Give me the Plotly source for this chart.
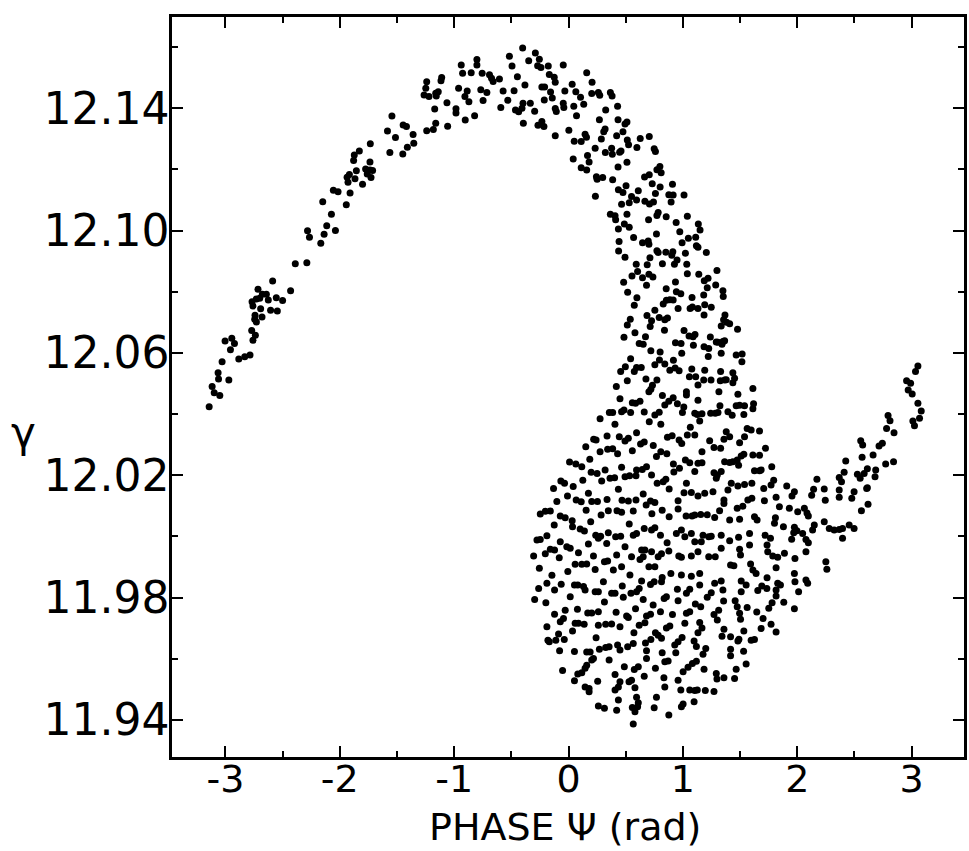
import plotly.graph_objects as go

# (phase psi [rad], gamma) pairs, grouped by region
arm_low = [(-3.142,12.0424),(-3.098,12.0470),(-3.049,12.0461),(-3.116,12.0490),(-3.060,12.0515),(-3.064,12.0535),(-2.970,12.0511),(-3.029,12.0571),(-2.956,12.0610),(-3.003,12.0639),(-2.944,12.0648),(-2.921,12.0631),(-2.883,12.0580),(-2.831,12.0587),(-2.785,12.0593),(-2.759,12.0641),(-2.738,12.0658),(-2.770,12.0673),(-2.744,12.0710),(-2.729,12.0701),(-2.741,12.0723),(-2.680,12.0717),(-2.692,12.0744),(-2.605,12.0739),(-2.546,12.0737),(-2.759,12.0753),(-2.767,12.0767),(-2.729,12.0776),(-2.700,12.0779),(-2.677,12.0792),(-2.642,12.0792),(-2.625,12.0773),(-2.715,12.0808),(-2.555,12.0780),(-2.500,12.0771),(-2.587,12.0835),(-2.430,12.0803),(-2.389,12.0891),(-2.288,12.0895)]

arm_high = [(-2.166,12.0958),(-2.137,12.0988),(-2.265,12.0978),(-2.282,12.0999),(-2.114,12.1016),(-2.038,12.1000),(-2.073,12.1053),(-2.149,12.1094),(-1.943,12.1084),(-1.910,12.1123),(-2.056,12.1132),(-2.015,12.1127),(-1.928,12.1158),(-1.936,12.1174),(-1.916,12.1183),(-1.867,12.1169),(-1.801,12.1151),(-1.855,12.1195),(-1.774,12.1201),(-1.736,12.1198),(-1.713,12.1196),(-1.727,12.1173),(-1.760,12.1185),(-1.736,12.1224),(-1.879,12.1229),(-1.873,12.1247),(-1.829,12.1260),(-1.733,12.1284),(-1.562,12.1255),(-1.449,12.1250),(-1.409,12.1272),(-1.353,12.1285),(-1.513,12.1304),(-1.583,12.1325),(-1.359,12.1314),(-1.417,12.1340),(-1.446,12.1345),(-1.544,12.1374)]

crest_left = [(-1.240,12.1486),(-1.248,12.1465),(-1.263,12.1443),(-1.220,12.1438),(-1.161,12.1449),(-1.139,12.1454),(-1.156,12.1440),(-1.109,12.1500),(-1.115,12.1490),(-1.170,12.1397),(-1.063,12.1418),(-1.161,12.1351),(-1.240,12.1326),(-1.182,12.1330),(-1.057,12.1341),(-0.984,12.1398),(-0.984,12.1384),(-0.961,12.1465),(-0.938,12.1541),(-0.926,12.1514),(-0.906,12.1438),(-0.886,12.1456),(-0.871,12.1421),(-0.903,12.1361),(-0.821,12.1375),(-0.801,12.1559),(-0.801,12.1541),(-0.851,12.1516),(-0.767,12.1460),(-0.714,12.1451),(-0.747,12.1425),(-0.755,12.1514),(-0.691,12.1509),(-0.673,12.1498),(-0.659,12.1487),(-0.604,12.1495),(-0.572,12.1456),(-0.531,12.1426),(-0.592,12.1402),(-0.517,12.1570),(-0.494,12.1538),(-0.447,12.1503),(-0.476,12.1457),(-0.464,12.1394),(-0.436,12.1388),(-0.407,12.1400),(-0.398,12.1416),(-0.381,12.1476),(-0.401,12.1597),(-0.348,12.1555),(-0.290,12.1580),(-0.255,12.1560),(-0.270,12.1539),(-0.241,12.1533),(-0.177,12.1538),(-0.168,12.1510),(-0.125,12.1501),(-0.116,12.1485),(-0.233,12.1469),(-0.209,12.1469),(-0.157,12.1453),(-0.142,12.1433),(-0.212,12.1427),(-0.334,12.1416),(-0.296,12.1390),(-0.395,12.1351),(-0.267,12.1344),(-0.233,12.1356),(-0.215,12.1340),(-0.116,12.1399),(-0.107,12.1389),(-0.116,12.1310),(-0.046,12.1541),(-0.032,12.1456),(-0.046,12.1416),(-0.041,12.1402),(0.046,12.1406),(0.032,12.1478),(0.064,12.1454),(0.070,12.1375),(0.003,12.1328),(0.050,12.1292),(0.041,12.1234)]

crest_right = [(0.159,12.1516),(0.206,12.1485),(0.203,12.1448),(0.261,12.1451),(0.273,12.1442),(0.366,12.1451),(0.381,12.1440),(0.105,12.1436),(0.133,12.1413),(0.325,12.1394),(0.429,12.1406),(0.270,12.1362),(0.433,12.1362),(0.511,12.1355),(0.494,12.1348),(0.476,12.1323),(0.320,12.1332),(0.308,12.1323),(0.421,12.1310),(0.627,12.1301),(0.706,12.1307),(0.514,12.1296),(0.525,12.1280),(0.287,12.1299),(0.145,12.1315),(0.157,12.1305),(0.111,12.1291),(0.233,12.1269),(0.377,12.1269),(0.383,12.1249),(0.322,12.1255),(0.459,12.1260),(0.447,12.1256),(0.598,12.1271),(0.749,12.1267),(0.760,12.1258),(0.166,12.1245),(0.180,12.1224),(0.111,12.1205),(0.159,12.1198),(0.433,12.1208),(0.511,12.1223),(0.244,12.1176),(0.250,12.1168),(0.299,12.1173),(0.386,12.1166),(0.665,12.1175),(0.706,12.1182),(0.773,12.1199),(0.799,12.1209),(0.810,12.1189),(0.732,12.1153),(0.801,12.1142),(0.909,12.1151),(0.503,12.1146),(0.436,12.1133),(0.476,12.1124),(0.610,12.1130),(0.760,12.1121),(0.877,12.1117),(0.915,12.1116),(1.010,12.1116),(0.235,12.1112),(0.551,12.1111),(0.595,12.1100),(0.531,12.1091),(0.464,12.1086),(0.668,12.1096),(0.708,12.1087),(0.743,12.1093),(0.897,12.1093),(0.366,12.1053),(0.407,12.1048),(0.412,12.1035),(0.511,12.1053),(0.784,12.1059),(0.773,12.1049),(0.854,12.1045),(1.039,12.1047),(0.700,12.1035),(0.488,12.1021),(0.531,12.1011),(0.436,12.1005),(0.941,12.1026),(1.135,12.1021),(1.150,12.1002)]

band = [(0.569,12.0977),(0.647,12.0960),(0.697,12.0966),(0.703,12.0955),(0.769,12.0989),(0.973,12.0996),(1.048,12.0975),(1.112,12.0978),(0.993,12.0960),(1.118,12.0950),(1.132,12.0945),(0.442,12.0964),(0.438,12.0933),(0.494,12.0913),(0.773,12.0934),(0.784,12.0928),(0.851,12.0929),(0.912,12.0931),(0.903,12.0919),(1.022,12.0926),(1.205,12.0928),(0.592,12.0890),(0.688,12.0888),(0.712,12.0911),(0.821,12.0891),(0.926,12.0890),(0.949,12.0904),(1.034,12.0890),(0.555,12.0851),(0.604,12.0866),(0.647,12.0846),(0.703,12.0857),(0.738,12.0848),(0.935,12.0832),(1.039,12.0859),(1.139,12.0857),(1.298,12.0869),(0.482,12.0831),(0.682,12.0821),(0.854,12.0810),(0.943,12.0800),(0.982,12.0793),(1.187,12.0836),(1.220,12.0844),(1.287,12.0822),(1.213,12.0813),(1.350,12.0803),(1.353,12.0784),(0.517,12.0798),(0.598,12.0780),(0.575,12.0756),(1.080,12.0781),(1.182,12.0789),(0.856,12.0772),(0.886,12.0774),(0.915,12.0773),(0.828,12.0760),(0.958,12.0745),(1.063,12.0745),(1.083,12.0750),(1.132,12.0745),(1.191,12.0757),(1.248,12.0749),(1.185,12.0724),(0.755,12.0739),(0.540,12.0710),(0.514,12.0691),(0.686,12.0722),(0.726,12.0705),(0.714,12.0686),(0.793,12.0716),(0.842,12.0708),(0.865,12.0714),(0.839,12.0674),(1.368,12.0724),(1.356,12.0708),(1.382,12.0700),(1.409,12.0695),(1.335,12.0688),(1.478,12.0677),(0.485,12.0651),(0.581,12.0666),(0.673,12.0653),(0.618,12.0631),(0.653,12.0628),(0.935,12.0633),(0.984,12.0631),(1.010,12.0673),(1.054,12.0655),(1.089,12.0653),(1.106,12.0660),(1.092,12.0625),(1.240,12.0652),(1.185,12.0620),(1.226,12.0614),(1.292,12.0636),(1.307,12.0635),(1.350,12.0637),(1.365,12.0640),(1.342,12.0628),(0.720,12.0607),(0.801,12.0603),(0.990,12.0599),(1.222,12.0588),(1.335,12.0599),(1.466,12.0593),(1.518,12.0596),(1.516,12.0571),(0.543,12.0581),(0.497,12.0555),(0.456,12.0539),(0.575,12.0539),(0.595,12.0552),(0.636,12.0552),(0.755,12.0561),(0.795,12.0577),(0.842,12.0564),(0.917,12.0576),(0.886,12.0543),(0.932,12.0551),(0.967,12.0542),(1.078,12.0547),(1.057,12.0522),(1.112,12.0522),(1.191,12.0543),(1.132,12.0495),(1.182,12.0511),(1.246,12.0511),(1.330,12.0539),(1.327,12.0509),(1.365,12.0511),(1.379,12.0512),(1.437,12.0535),(1.437,12.0502),(1.452,12.0517),(1.612,12.0484),(1.481,12.0465),(0.418,12.0490),(0.514,12.0509),(0.677,12.0515),(0.773,12.0511),(0.734,12.0494),(0.720,12.0481),(0.703,12.0473),(0.450,12.0450),(0.558,12.0437),(0.586,12.0435),(0.625,12.0442),(0.485,12.0413),(0.464,12.0408),(0.821,12.0461),(0.842,12.0430),(0.877,12.0442),(0.915,12.0453),(0.952,12.0434),(1.008,12.0423),(1.031,12.0473),(1.031,12.0462),(1.132,12.0445),(1.315,12.0473),(1.324,12.0427),(0.357,12.0405),(0.386,12.0405),(0.543,12.0405),(0.662,12.0407),(0.793,12.0406),(0.755,12.0397),(0.996,12.0405),(1.104,12.0403),(1.126,12.0399),(1.167,12.0401),(1.243,12.0403),(1.283,12.0403),(1.307,12.0405),(1.394,12.0408),(1.466,12.0427),(1.496,12.0429),(1.539,12.0427),(1.618,12.0434),(1.612,12.0417),(1.431,12.0396),(1.533,12.0399),(0.276,12.0385)]

lobe_upper = [(0.406,12.0367),(0.706,12.0375),(0.807,12.0367),(1.065,12.0357),(0.241,12.0315),(0.220,12.0318),(0.337,12.0328),(0.444,12.0326),(0.494,12.0312),(0.523,12.0321),(0.595,12.0339),(0.630,12.0302),(0.662,12.0309),(0.741,12.0297),(0.865,12.0324),(0.906,12.0329),(0.967,12.0315),(0.990,12.0304),(1.039,12.0332),(0.151,12.0293),(0.276,12.0277),(0.342,12.0285),(0.386,12.0287),(0.429,12.0270),(0.558,12.0280),(0.769,12.0261),(0.807,12.0277),(0.860,12.0270),(0.009,12.0243),(0.064,12.0237),(0.116,12.0228),(0.186,12.0252),(0.198,12.0210),(0.250,12.0206),(0.320,12.0217),(0.464,12.0226),(0.595,12.0217),(0.645,12.0219),(0.682,12.0228),(0.917,12.0237),(0.970,12.0223),(1.022,12.0250),(1.060,12.0241),(0.125,12.0184),(0.290,12.0181),(0.363,12.0190),(0.403,12.0192),(0.494,12.0195),(0.534,12.0198),(0.590,12.0198),(0.726,12.0201),(0.775,12.0174),(0.828,12.0179),(0.851,12.0187),(0.921,12.0211),(0.880,12.0155),(1.031,12.0174),(-0.067,12.0181),(-0.035,12.0174),(-0.131,12.0157),(0.041,12.0163),(0.436,12.0154),(0.653,12.0139),(0.174,12.0141),(1.010,12.0143),(1.074,12.0144),(-0.009,12.0132),(0.067,12.0119),(0.111,12.0113),(0.203,12.0114),(0.253,12.0114),(0.337,12.0121),(0.468,12.0118),(0.523,12.0116),(0.590,12.0119),(0.679,12.0103),(0.717,12.0116),(0.755,12.0111),(0.958,12.0117),(0.958,12.0090),(0.819,12.0086),(-0.102,12.0114),(0.154,12.0086),(0.285,12.0070),(0.348,12.0084),(0.424,12.0084),(0.464,12.0079),(0.566,12.0083),(0.729,12.0074),(0.880,12.0064),(1.028,12.0067),(1.080,12.0067),(-0.247,12.0073),(-0.203,12.0082),(-0.159,12.0083),(-0.072,12.0067),(-0.029,12.0061),(0.032,12.0051),(0.035,12.0032),(-0.125,12.0037),(0.102,12.0024),(0.139,12.0018),(0.194,12.0048),(0.238,12.0004),(0.281,12.0001),(0.348,12.0012),(0.412,11.9999),(0.456,12.0001),(0.531,12.0041),(0.566,12.0004),(0.595,12.0010),(0.662,12.0026),(0.726,12.0021),(0.755,12.0028),(0.804,12.0004),(0.862,11.9979),(0.943,12.0010),(0.987,12.0021),(1.017,11.9999),(1.074,12.0010),(-0.276,11.9988),(-0.247,11.9990),(-0.189,12.0002),(-0.072,11.9983),(-0.015,11.9966),(0.015,11.9961),(0.174,11.9975),(0.261,11.9994),(0.334,11.9977),(0.494,11.9966),(0.639,11.9956),(0.668,11.9956),(0.726,11.9950),(0.784,11.9934),(0.813,11.9943),(0.877,11.9952),(0.964,11.9936),(0.987,11.9932),(1.074,11.9936),(-0.305,11.9936),(-0.203,11.9943),(-0.159,11.9958),(-0.122,11.9956),(-0.081,11.9930),(0.087,11.9947),(0.218,11.9936),(0.314,11.9917),(0.342,11.9920),(0.421,11.9939),(0.551,11.9934),(0.625,11.9925),(0.653,11.9934),(0.703,11.9901),(0.755,11.9901),(0.819,11.9866),(0.813,11.9852),(0.895,11.9879),(0.987,11.9874),(1.074,11.9870),(-0.255,11.9896),(-0.145,11.9873),(-0.006,11.9885),(0.058,11.9909),(0.116,11.9909),(0.159,11.9910),(0.233,11.9892),(0.392,11.9890),(0.464,11.9901),(0.537,11.9874),(0.639,11.9854),(0.717,11.9843),(0.749,11.9852),(-0.189,11.9847),(0.305,11.9852)]

lobe_lower = [(-0.261,11.9830),(-0.064,11.9844),(0.052,11.9841),(0.081,11.9841),(0.131,11.9836),(0.145,11.9825),(0.233,11.9819),(0.261,11.9819),(0.377,11.9814),(0.407,11.9814),(0.470,11.9838),(0.546,11.9814),(0.595,11.9819),(0.618,11.9830),(0.952,11.9827),(1.060,11.9827),(1.031,11.9814),(-0.296,11.9794),(-0.198,11.9783),(-0.122,11.9825),(0.015,11.9803),(0.314,11.9786),(0.479,11.9801),(0.653,11.9794),(0.740,11.9776),(0.836,11.9797),(0.856,11.9803),(0.958,11.9790),(-0.122,11.9746),(-0.029,11.9759),(0.078,11.9762),(0.168,11.9750),(0.203,11.9750),(0.261,11.9754),(0.416,11.9752),(0.508,11.9740),(0.523,11.9735),(0.586,11.9764),(0.682,11.9740),(0.717,11.9746),(0.804,11.9754),(0.909,11.9745),(1.031,11.9749),(1.060,11.9754),(-0.189,11.9705),(-0.072,11.9721),(-0.044,11.9732),(0.035,11.9691),(0.058,11.9716),(0.087,11.9716),(0.137,11.9713),(0.261,11.9710),(0.325,11.9713),(0.377,11.9714),(0.450,11.9705),(0.572,11.9685),(0.618,11.9710),(0.668,11.9718),(0.760,11.9685),(0.784,11.9677),(0.856,11.9701),(0.886,11.9707),(1.017,11.9716),(-0.180,11.9661),(-0.168,11.9656),(-0.111,11.9661),(-0.087,11.9681),(-0.037,11.9663),(0.241,11.9669),(0.325,11.9637),(0.355,11.9639),(0.429,11.9645),(0.450,11.9629),(0.517,11.9639),(0.566,11.9650),(0.673,11.9652),(0.682,11.9626),(0.720,11.9663),(0.813,11.9667),(0.929,11.9645),(0.958,11.9656),(0.993,11.9670),(-0.078,11.9626),(0.052,11.9624),(0.159,11.9622),(0.189,11.9622),(0.218,11.9601),(0.203,11.9596),(0.270,11.9631),(0.355,11.9596),(0.682,11.9601),(0.819,11.9620),(0.842,11.9590),(0.871,11.9593),(0.938,11.9620),(1.083,11.9585),(-0.052,11.9562),(0.081,11.9550),(0.116,11.9554),(0.145,11.9569),(0.159,11.9579),(0.255,11.9527),(0.407,11.9549),(0.488,11.9574),(0.575,11.9565),(0.610,11.9574),(0.662,11.9543),(0.760,11.9569),(0.834,11.9538),(1.002,11.9558),(1.045,11.9572),(0.958,11.9530),(0.982,11.9498),(1.060,11.9498),(0.052,11.9528),(0.145,11.9508),(0.180,11.9503),(0.180,11.9492),(0.450,11.9525),(0.436,11.9508),(0.407,11.9498),(0.551,11.9530),(0.529,11.9525),(0.581,11.9505),(0.842,11.9508),(0.436,11.9465),(0.595,11.9474),(0.610,11.9456),(0.604,11.9443),(0.581,11.9427),(0.558,11.9441),(0.769,11.9474),(0.749,11.9440),(0.261,11.9446),(0.314,11.9438),(0.421,11.9432),(0.987,11.9443),(1.002,11.9452),(0.877,11.9416),(0.566,11.9387)]

lobe_right = [(1.147,12.0377),(1.104,12.0332),(1.379,12.0342),(1.409,12.0326),(1.359,12.0318),(1.562,12.0353),(1.597,12.0348),(1.539,12.0326),(1.670,12.0345),(1.496,12.0306),(1.234,12.0313),(1.272,12.0291),(1.330,12.0288),(1.167,12.0277),(1.722,12.0288),(1.132,12.0239),(1.167,12.0241),(1.365,12.0244),(1.409,12.0242),(1.437,12.0244),(1.475,12.0250),(1.510,12.0263),(1.533,12.0269),(1.487,12.0233),(1.612,12.0266),(1.670,12.0265),(1.777,12.0228),(1.104,12.0212),(1.272,12.0208),(1.301,12.0201),(1.335,12.0212),(1.292,12.0190),(1.626,12.0215),(1.670,12.0215),(1.684,12.0217),(1.423,12.0174),(1.481,12.0165),(1.539,12.0170),(1.603,12.0174),(1.394,12.0152),(1.707,12.0157),(1.794,12.0184),(1.771,12.0168),(1.908,12.0165),(1.132,12.0132),(1.191,12.0141),(1.263,12.0146),(1.359,12.0119),(1.359,12.0108),(1.568,12.0119),(1.603,12.0125),(1.713,12.0117),(1.815,12.0128),(1.975,12.0146),(1.954,12.0132),(1.475,12.0092),(1.524,12.0099),(1.321,12.0084),(1.844,12.0097),(1.931,12.0092),(2.004,12.0081),(2.062,12.0092),(2.085,12.0077),(2.097,12.0067),(1.104,12.0070),(1.156,12.0072),(1.213,12.0071),(1.278,12.0062),(1.409,12.0054),(1.496,12.0056),(1.626,12.0064),(1.649,12.0054),(1.809,12.0061),(1.801,12.0043),(1.879,12.0032),(1.975,12.0030),(1.969,12.0012),(1.997,12.0019),(1.176,12.0004),(1.226,11.9999),(1.248,12.0001),(1.335,12.0004),(1.409,11.9986),(1.487,11.9997),(1.583,12.0010),(1.719,12.0004),(1.766,11.9994),(1.951,11.9991),(2.047,12.0010),(2.076,11.9990),(2.097,11.9979),(1.104,11.9983),(1.161,11.9983),(1.335,11.9961),(1.496,11.9958),(1.504,11.9939),(1.583,11.9972),(1.736,11.9972),(1.742,11.9950),(1.786,11.9936),(1.829,11.9932),(1.888,11.9945),(1.980,11.9928),(2.076,11.9950),(1.132,11.9950),(1.226,11.9934),(1.283,11.9934),(1.417,11.9907),(1.446,11.9904),(1.592,11.9910),(1.612,11.9890),(1.640,11.9879),(1.815,11.9898),(1.975,11.9879),(2.076,11.9858),(2.091,11.9847),(1.147,11.9879),(1.278,11.9847),(1.335,11.9854),(1.510,11.9854),(1.736,11.9865),(1.829,11.9847),(1.980,11.9852),(1.147,11.9841),(1.553,11.9841),(1.690,11.9838),(1.734,11.9830),(1.655,11.9823),(1.853,11.9841),(1.815,11.9825),(2.012,11.9819),(1.248,11.9816),(1.213,11.9801),(1.350,11.9825),(1.510,11.9819),(1.815,11.9805),(1.780,11.9783),(1.751,11.9765),(1.882,11.9785),(1.975,11.9764),(1.109,11.9779),(1.156,11.9770),(1.356,11.9789),(1.457,11.9790),(1.475,11.9770),(1.496,11.9749),(1.504,11.9729),(1.562,11.9768),(1.313,11.9759),(1.272,11.9745),(1.301,11.9727),(1.646,11.9753),(1.701,11.9732),(1.771,11.9713),(1.815,11.9688),(1.147,11.9719),(1.167,11.9701),(1.132,11.9685),(1.359,11.9697),(1.342,11.9674),(1.417,11.9672),(1.490,11.9664),(1.481,11.9658),(1.533,11.9691),(1.684,11.9699),(1.597,11.9661),(1.626,11.9663),(1.098,11.9658),(1.118,11.9640),(1.200,11.9634),(1.176,11.9615),(1.417,11.9631),(1.417,11.9610),(1.531,11.9625),(1.118,11.9592),(1.185,11.9566),(1.292,11.9552),(1.298,11.9534),(1.359,11.9538),(1.452,11.9536),(1.466,11.9566),(1.553,11.9583),(1.104,11.9496),(1.126,11.9498),(1.196,11.9496),(1.272,11.9493),(1.098,11.9460)]

tail = [(2.555,12.0313),(2.572,12.0299),(2.567,12.0259),(2.424,12.0247),(2.410,12.0210),(2.526,12.0203),(2.550,12.0190),(2.585,12.0206),(2.367,12.0193),(2.387,12.0179),(2.172,12.0187),(2.236,12.0155),(2.367,12.0152),(2.497,12.0146),(2.607,12.0157),(2.143,12.0154),(2.126,12.0135),(2.367,12.0128),(2.245,12.0118),(2.477,12.0125),(2.561,12.0084),(2.149,12.0037),(2.134,12.0021),(2.236,12.0048),(2.280,12.0026),(2.323,12.0021),(2.367,12.0023),(2.396,12.0026),(2.454,12.0037),(2.497,12.0026),(2.396,11.9994),(2.250,11.9917),(2.259,11.9893),(3.055,12.0557),(3.034,12.0539),(2.956,12.0509),(2.991,12.0501),(2.970,12.0479),(3.005,12.0466),(3.055,12.0435),(3.084,12.0410),(3.069,12.0386),(3.011,12.0377),(3.025,12.0362),(2.794,12.0395),(2.811,12.0378),(2.781,12.0353),(2.846,12.0339),(2.715,12.0296),(2.744,12.0305),(2.663,12.0266),(2.773,12.0237),(2.842,12.0244),(2.613,12.0221),(2.686,12.0217),(2.680,12.0195),(2.613,12.0159),(2.619,12.0105)]

x_tick_vals = [-3, -2, -1, 0, 1, 2, 3]
x_tick_text = ["-3", "-2", "-1", "0", "1", "2", "3"]
y_tick_vals = [11.94, 11.98, 12.02, 12.06, 12.10, 12.14]
y_tick_text = ["11.94", "11.98", "12.02", "12.06", "12.10", "12.14"]

regions = [arm_low, arm_high, crest_left, crest_right, band, lobe_upper, lobe_lower, lobe_right, tail]
phase = [p for reg in regions for p, g in reg]
gamma = [g for reg in regions for p, g in reg]

FONT = "DejaVu Sans"

fig = go.Figure(go.Scatter(
    x=phase, y=gamma, mode="markers",
    marker=dict(size=7, color="black", line=dict(width=0)),
    showlegend=False, hoverinfo="skip",
))

axis_common = dict(
    showline=True, linecolor="black", linewidth=2.5, mirror="ticks",
    ticks="inside", ticklen=11, tickwidth=2, tickcolor="black",
    showgrid=False, zeroline=False,
)

fig.update_xaxes(
    range=[-3.467, 3.458], tickvals=x_tick_vals, ticktext=x_tick_text,
    tickfont=dict(family=FONT, size=38, color="black"),
    ticklabelstandoff=-13,
    minor=dict(ticks="inside", ticklen=6, tickwidth=2, tickcolor="black", dtick=0.5, tick0=0.5, showgrid=False),
    **axis_common,
)
fig.update_yaxes(
    range=[11.9279, 12.1698], tickvals=y_tick_vals, ticktext=y_tick_text,
    tickfont=dict(family=FONT, size=44, color="black"),
    ticklabelstandoff=-9,
    minor=dict(ticks="inside", ticklen=6, tickwidth=2, tickcolor="black", dtick=0.04, tick0=11.96, showgrid=False),
    **axis_common,
)

fig.add_annotation(
    text="PHASE Ψ (rad)", xref="paper", yref="paper", x=0.496, y=-0.095,
    xanchor="center", yanchor="middle", showarrow=False,
    font=dict(family=FONT, size=38, color="black"),
)
fig.add_annotation(
    text="γ", xref="paper", yref="paper", x=-0.188, y=0.438,
    xanchor="center", yanchor="middle", showarrow=False,
    font=dict(family=FONT, size=42, color="black"),
)

fig.update_layout(
    width=969, height=851,
    margin=dict(l=172, r=2, t=17, b=94),
    paper_bgcolor="white", plot_bgcolor="white",
)

fig.write_html("out.html")
